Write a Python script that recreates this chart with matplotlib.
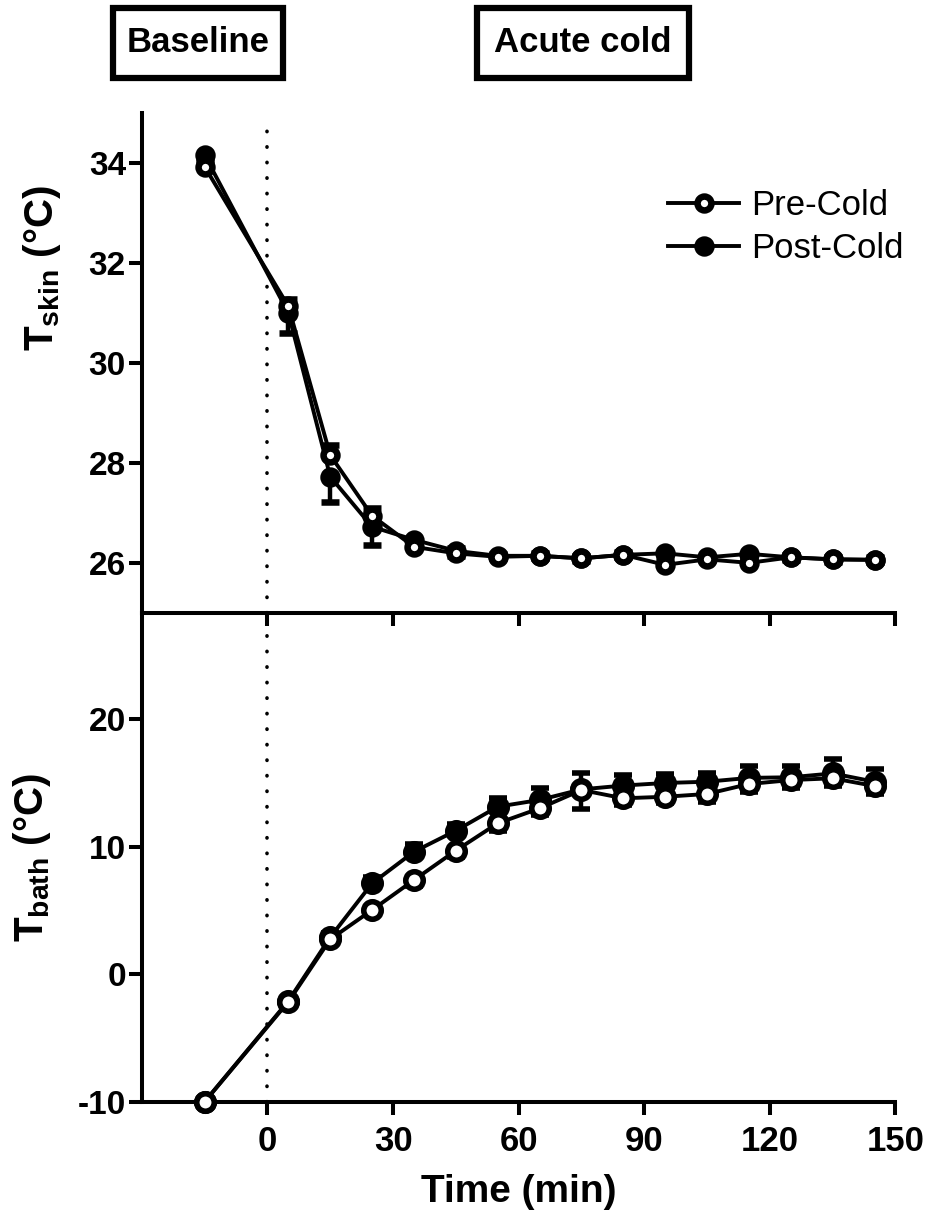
import matplotlib
matplotlib.use("Agg")
import matplotlib.pyplot as plt
from matplotlib.lines import Line2D
from matplotlib.patches import Rectangle

plt.rcParams["font.family"] = ["Liberation Sans", "DejaVu Sans"]
plt.rcParams["mathtext.fontset"] = "custom"
plt.rcParams["mathtext.rm"] = "Liberation Sans"
plt.rcParams["mathtext.bf"] = "Liberation Sans:bold"
plt.rcParams["axes.unicode_minus"] = False

# Time points (min), -15 is the baseline sample
time = [-15, 5, 15, 25, 35, 45, 55, 65, 75, 85, 95, 105, 115, 125, 135, 145]

skin_pre = [33.92, 31.13, 28.16, 26.95, 26.33, 26.2, 26.13, 26.15, 26.1, 26.17,
            25.97, 26.08, 26.01, 26.12, 26.08, 26.07]
skin_pre_err = [0.1, 0.15, 0.2, 0.15, 0.1, 0.1, 0.05, 0.05, 0.05, 0.05,
                0.05, 0.05, 0.05, 0.05, 0.05, 0.05]
skin_post = [34.15, 31.0, 27.73, 26.73, 26.47, 26.25, 26.15, 26.15, 26.1, 26.17,
             26.2, 26.12, 26.19, 26.12, 26.08, 26.07]
skin_post_err = [0.1, 0.4, 0.5, 0.37, 0.1, 0.1, 0.05, 0.05, 0.05, 0.05,
                 0.05, 0.05, 0.05, 0.05, 0.05, 0.05]

bath_pre = [-10.0, -2.16, 2.74, 5.04, 7.39, 9.7, 11.84, 13.01, 14.45, 13.8,
            13.92, 14.14, 14.92, 15.23, 15.37, 14.76]
bath_pre_err = [0, 0.2, 0.3, 0.4, 0.5, 0.5, 0.6, 0.5, 1.5, 0.5,
                0.5, 0.6, 0.6, 0.6, 0.6, 0.6]
bath_post = [-10.0, -2.1, 2.9, 7.13, 9.61, 11.26, 13.14, 13.67, 14.5, 14.8,
             15.0, 15.1, 15.4, 15.45, 15.75, 15.1]
bath_post_err = [0, 0.2, 0.3, 0.5, 0.6, 0.5, 0.7, 0.9, 1.3, 0.8,
                 0.7, 0.7, 0.9, 0.9, 1.1, 1.0]

xticks = [0, 30, 60, 90, 120, 150]

fig = plt.figure(figsize=(9.27, 12.21), dpi=100)
ax2 = fig.add_axes([0.153, 0.0977, 0.813, 0.3999])
ax1 = fig.add_axes([0.153, 0.4976, 0.813, 0.4102])
for ax in (ax1, ax2):
    ax.patch.set_visible(False)

LW = 2.8
SPW = 2.9


def style(ax):
    for s in ("top", "right"):
        ax.spines[s].set_visible(False)
    for s in ("left", "bottom"):
        ax.spines[s].set_linewidth(SPW)
    ax.tick_params(width=SPW, length=9.5)
    ax.tick_params(axis="y", labelsize=24, pad=2)
    ax.tick_params(axis="x", labelsize=25, pad=7)
    ax.set_xlim(-30, 150)
    ax.set_xticks(xticks)
    for lab in ax.get_yticklabels() + ax.get_xticklabels():
        lab.set_fontweight("bold")


def series(ax, y_post, e_post, y_pre, e_pre, ms, mew, post_up):
    z = [0] * len(time)
    post_err = [z, e_post] if post_up else [e_post, z]
    pre_err = [e_pre, z] if post_up else [z, e_pre]
    ax.errorbar(time, y_post, yerr=post_err, color="black", lw=LW, marker="o",
                ms=ms, mew=mew, mfc="black", mec="black", capsize=6.5,
                capthick=3.2, elinewidth=3.2, zorder=3, clip_on=False)
    ax.errorbar(time, y_pre, yerr=pre_err, color="black", lw=LW, marker="o",
                ms=ms, mew=mew, mfc="white", mec="black", capsize=6.5,
                capthick=3.2, elinewidth=3.2, zorder=4, clip_on=False)


# Top: skin temperature
series(ax1, skin_post, skin_post_err, skin_pre, skin_pre_err, 10, 4.7, False)
ax1.set_ylim(25, 35)
ax1.set_yticks([26, 28, 30, 32, 34])
style(ax1)
ax1.set_xticklabels([])
ax1.set_ylabel(r"$\mathbf{T_{skin}}$ (°C)", fontsize=29, fontweight="bold")
ax1.yaxis.set_label_coords(-0.105, 0.69)
ax1.axvline(0, ymax=0.97, color="black", lw=2.6,
            linestyle=(0, (0.1, 4.2)), dash_capstyle="round", zorder=1)

handles = [
    Line2D([], [], color="black", lw=LW, marker="o", ms=10, mew=4.7,
           mfc="white", mec="black"),
    Line2D([], [], color="black", lw=LW, marker="o", ms=10, mew=4.7,
           mfc="black", mec="black"),
]
ax1.legend(handles, ["Pre-Cold", "Post-Cold"], loc="upper left",
           bbox_to_anchor=(668 / 927, 1 - 189 / 1221),
           bbox_transform=fig.transFigure, frameon=False, fontsize=25,
           handlelength=2.05, handletextpad=0.35, labelspacing=0.3,
           borderpad=0, borderaxespad=0)

# Bottom: bath temperature
series(ax2, bath_post, bath_post_err, bath_pre, bath_pre_err, 12.6, 4.0, True)
ax2.set_ylim(-10, 28.3)
ax2.set_yticks([-10, 0, 10, 20])
style(ax2)
ax2.set_xlabel("Time (min)", fontsize=28, fontweight="bold", labelpad=12)
ax2.set_ylabel(r"$\mathbf{T_{bath}}$ (°C)", fontsize=29, fontweight="bold")
ax2.yaxis.set_label_coords(-0.118, 0.5)
ax2.axvline(0, color="black", lw=2.6, linestyle=(0, (0.1, 4.2)),
            dash_capstyle="round", zorder=1)

# Phase labels in boxes above the top panel
for cx, w, txt in [(198, 170, "Baseline"), (583, 212, "Acute cold")]:
    x0 = (cx - w / 2) / 927
    fig.patches.append(Rectangle((x0, 1 - 78 / 1221), w / 927, 70 / 1221,
                                 transform=fig.transFigure, fill=False,
                                 lw=4.5, edgecolor="black"))
    fig.text(cx / 927, 1 - 43 / 1221, txt, ha="center", va="center",
             fontsize=25, fontweight="bold")

fig.savefig("out.png", dpi=100, facecolor="white")
